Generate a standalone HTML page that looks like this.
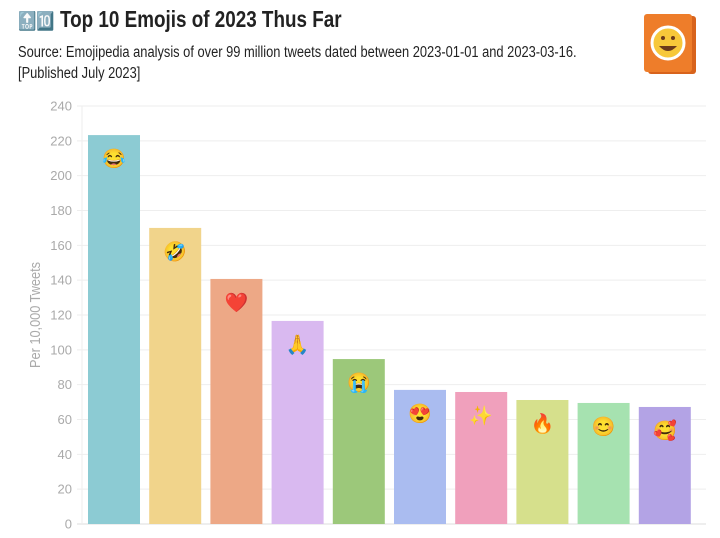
<!DOCTYPE html>
<html><head><meta charset="utf-8"><style>
body{margin:0;background:#fff;width:720px;height:538px;overflow:hidden;font-family:"Liberation Sans",sans-serif;}
#t{position:absolute;left:18px;top:6px;font-size:23px;font-weight:bold;color:#222;white-space:nowrap;transform:scaleX(0.82);transform-origin:0 0;}
#s{position:absolute;left:18px;top:42px;font-size:15.5px;color:#222;line-height:21px;white-space:nowrap;transform:scaleX(0.83);transform-origin:0 0;}
</style></head><body>
<div id="t"><span style="font-size:18px">🔝🔟</span> Top 10 Emojis of 2023 Thus Far</div>
<div id="s">Source: Emojipedia analysis of over 99 million tweets dated between 2023-01-01 and 2023-03-16.<br>[Published July 2023]</div>
<svg width="720" height="538" style="position:absolute;left:0;top:0" id="c">
<g>
<rect x="648" y="16" width="48" height="58" rx="3" fill="#d8631c"/>
<rect x="644" y="14" width="48" height="58" rx="3" fill="#ee7d2a"/>
<circle cx="668" cy="43" r="16" fill="#f7c83a" stroke="#fff" stroke-width="3"/>
<path d="M659 46 Q668 56 677 46 Z" fill="#6b3a1a"/>
<circle cx="663" cy="38" r="2" fill="#6b3a1a"/><circle cx="673" cy="38" r="2" fill="#6b3a1a"/>
</g>
<text transform="translate(40,315) rotate(-90) scale(0.85,1)" text-anchor="middle" font-size="15" fill="#aaa">Per 10,000 Tweets</text>
<g id="grid"></g><g id="bars"></g>
</svg>
<script>
const categories=["😂","🤣","❤️","🙏","😭","😍","✨","🔥","😊","🥰"];
const values=[223.3,170,140.7,116.6,94.7,77,75.8,71.2,69.5,67.2];
const ticks=[0,20,40,60,80,100,120,140,160,180,200,220,240];
const colors=["#8ccbd3","#f1d48b","#eda886","#d9b9f0","#9cc87a","#aabcf0","#f0a0bc","#d6e08c","#a6e2b0","#b3a3e5"];
const NS="http://www.w3.org/2000/svg";
const y=v=>524-v*(418/240);
const x=i=>88+i*61.2;
const g=document.getElementById('grid'),b=document.getElementById('bars');
function mk(tag,attrs,parent){const e=document.createElementNS(NS,tag);for(const k in attrs)e.setAttribute(k,attrs[k]);parent.appendChild(e);return e;}
ticks.forEach(t=>{
 const l=mk('line',{x1:77,x2:706,y1:y(t),y2:y(t),stroke:t===0?'#ddd':'#eee','stroke-width':1},g);
 
 
 const tx=mk('text',{x:72,y:y(t)+4.5,'text-anchor':'end','font-size':13,fill:'#aaa'},g);
 tx.textContent=t;
 
 
});
mk('line',{x1:82,x2:82,y1:106,y2:524,stroke:'#eee'},g);
values.forEach((v,i)=>{
 const r=mk('rect',{x:x(i),y:y(v),width:52,height:524-y(v),fill:colors[i]},b);
 
 
 const e=mk('text',{x:x(i)+26,y:y(v)+30,'text-anchor':'middle','font-size':19},b);
 e.textContent=categories[i];
 
 
});
</script>
</body></html>
